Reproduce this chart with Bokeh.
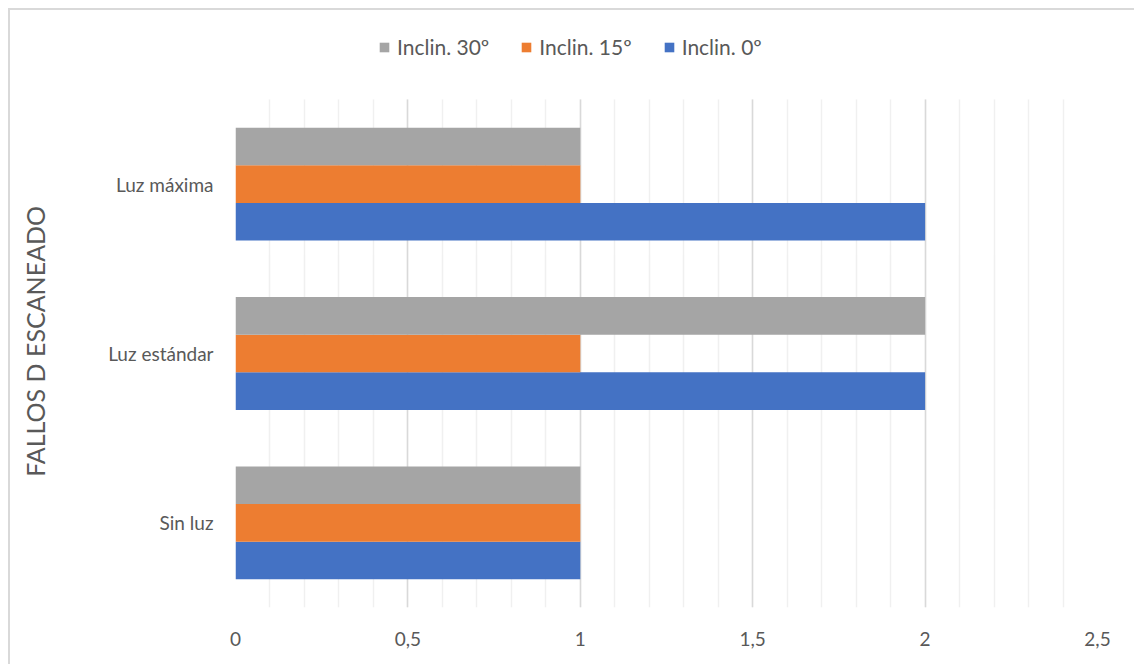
from bokeh.plotting import figure
from bokeh.models import (ColumnDataSource, Legend, LegendItem, SingleIntervalTicker,
                          FixedTicker, Range1d)
from bokeh.transform import dodge
from bokeh.embed import file_html
from bokeh.resources import INLINE

categories = ["Sin luz", "Luz estándar", "Luz máxima"]
incl_0 = [1, 2, 2]
incl_15 = [1, 1, 1]
incl_30 = [1, 2, 1]
series_names = ["Inclin. 0º", "Inclin. 15º", "Inclin. 30º"]
x_tick_values = [0, 0.5, 1, 1.5, 2, 2.5]
x_tick_labels = ["0", "0,5", "1", "1,5", "2", "2,5"]
axis_title = "FALLOS D ESCANEADO"

FONT = "Lato"
TXT = "#595959"
colors = ["#4472c4", "#ed7d31", "#a5a5a5"]

ypos = [i + 0.5 for i in range(len(categories))]
src = ColumnDataSource(dict(y=ypos, s0=incl_0, s15=incl_15, s30=incl_30))

n = len(categories)
top_room = 0.4075  # blank strip above the bars that holds the legend
p = figure(x_range=Range1d(0, 2.5), y_range=Range1d(0, n + top_room),
           frame_width=862, frame_height=577,
           min_border_left=225, min_border_right=37, min_border_top=20, min_border_bottom=57,
           output_backend="svg", toolbar_location=None)
p.margin = (8, 0, 0, 8)
p.styles = {"border-left": "2px solid #d9d9d9", "border-top": "2px solid #d9d9d9",
            "border-right": "none", "border-bottom": "none", "outline": "none"}
p.outline_line_color = None

bh = 0.222
r0 = p.hbar(y=dodge("y", -bh), right="s0", left=0, height=bh,
            source=src, color=colors[0], line_color=None)
r15 = p.hbar(y=dodge("y", 0), right="s15", left=0, height=bh,
             source=src, color=colors[1], line_color=None)
r30 = p.hbar(y=dodge("y", bh), right="s30", left=0, height=bh,
             source=src, color=colors[2], line_color=None)

p.xaxis.ticker = SingleIntervalTicker(interval=0.5, num_minor_ticks=5)
p.xaxis.major_label_overrides = {v: l for v, l in zip(x_tick_values, x_tick_labels)}
p.xaxis.axis_line_color = None
p.xaxis.major_tick_line_color = None
p.xaxis.minor_tick_line_color = None
p.xaxis.major_label_standoff = 18
p.xaxis.major_label_text_font = FONT
p.xaxis.major_label_text_font_size = "19px"
p.xaxis.major_label_text_color = TXT

p.xgrid.grid_line_color = "#d9d9d9"
p.xgrid.grid_line_width = 1.5
p.xgrid.minor_grid_line_color = "#f0f0f0"
p.xgrid.minor_grid_line_width = 1.5
p.xgrid.cross_bounds = (0, n)
p.ygrid.grid_line_color = None

p.yaxis.ticker = FixedTicker(ticks=ypos)
p.yaxis.major_label_overrides = {v: c for v, c in zip(ypos, categories)}
p.yaxis.axis_line_color = None
p.yaxis.major_tick_line_color = None
p.yaxis.minor_tick_line_color = None
p.yaxis.major_label_standoff = 16
p.yaxis.major_label_text_font = FONT
p.yaxis.major_label_text_font_size = "19px"
p.yaxis.major_label_text_color = TXT
p.yaxis.axis_label = axis_title + "\u00a0" * 7
p.yaxis.axis_label_text_font = FONT
p.yaxis.axis_label_text_font_size = "25px"
p.yaxis.axis_label_text_font_style = "normal"
p.yaxis.axis_label_text_color = TXT
p.yaxis.axis_label_standoff = 55

legend = Legend(items=[LegendItem(label=series_names[2], renderers=[r30]),
                       LegendItem(label=series_names[1], renderers=[r15]),
                       LegendItem(label=series_names[0], renderers=[r0])],
                orientation="horizontal", location=(143, 548),
                border_line_color=None, background_fill_alpha=0,
                glyph_width=12, glyph_height=12, label_standoff=7, spacing=31,
                label_text_font=FONT, label_text_font_size="21px", label_text_color=TXT,
                padding=0, margin=0)
p.add_layout(legend, "center")

open("out.html", "w").write(file_html(p, INLINE))
